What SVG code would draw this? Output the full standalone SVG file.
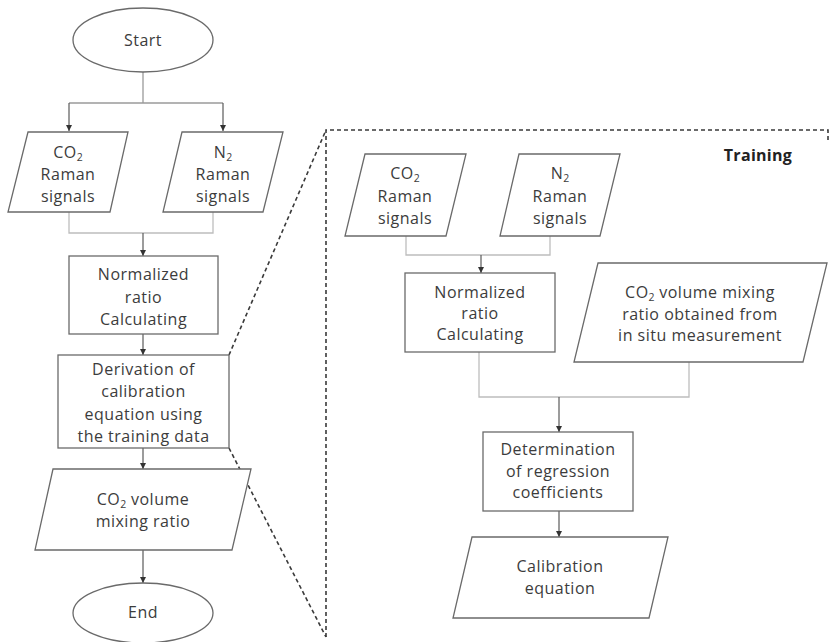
<svg xmlns="http://www.w3.org/2000/svg" width="831" height="642" viewBox="0 0 831 642">
<style>
text{font-family:"Open Sans","Noto Sans","Liberation Sans",sans-serif;font-size:16px;letter-spacing:0.5px;fill:#3c3c3c;text-anchor:middle}
.b{font-weight:bold;fill:#222;font-size:16px;letter-spacing:0.3px}
.sub{font-size:10.5px;letter-spacing:0}
.s{fill:#fff;stroke:#6a6a6a;stroke-width:1.3}
.c{fill:none;stroke:#9a9a9a;stroke-width:1.3}
.m{fill:none;stroke:#bdbdbd;stroke-width:1.3}
.a{fill:none;stroke:#5a5a5a;stroke-width:1.2;marker-end:url(#ah)}
.d{fill:none;stroke:#3a3a3a;stroke-width:1.6;stroke-dasharray:4 3}
</style>
<defs>
<marker id="ah" viewBox="0 0 8 8" refX="8" refY="4" markerWidth="6" markerHeight="6" markerUnits="userSpaceOnUse" orient="auto">
<path d="M0,0L8,4L0,8z" fill="#333"/>
</marker>
</defs>
<rect width="831" height="642" fill="#fff"/>
<g id="connectors">
<path class="c" d="M143,72V103M69,103H223"/>
<path class="a" d="M69,103V131"/>
<path class="a" d="M223,103V131"/>
<path class="m" d="M69,212V233H213V212"/>
<path class="a" d="M143,233V256"/>
<path class="a" d="M143,334V355"/>
<path class="a" d="M143,448V469"/>
<path class="a" d="M143,550V583"/>
<path class="m" d="M406,236V255H550V236"/>
<path class="a" d="M481,255V273"/>
<path class="m" d="M479,352V397H689V362"/>
<path class="a" d="M559,397V432"/>
<path class="a" d="M559,511V537"/>
</g>
<g id="zoom-frame">
<path class="d" d="M229,355L326,130"/>
<path class="d" d="M229,448L326,637"/>
<path class="d" d="M326,637V130H828V140"/>
</g>
<g id="start"><ellipse class="s" cx="143" cy="40" rx="70" ry="32"/><text x="143" y="46">Start</text></g>
<g id="co2-signals"><path class="s" d="M28,132H128L110,212H8Z"/>
<text x="68" y="158">CO<tspan class="sub" dy="3">2</tspan></text><text x="68" y="180">Raman</text><text x="68" y="202">signals</text></g>
<g id="n2-signals"><path class="s" d="M182,132H283L263,212H163Z"/>
<text x="223" y="158">N<tspan class="sub" dy="3">2</tspan></text><text x="223" y="180">Raman</text><text x="223" y="202">signals</text></g>
<g id="normalized"><rect class="s" x="69" y="256" width="149" height="78"/>
<text x="143.5" y="280">Normalized</text><text x="143.5" y="303">ratio</text><text x="143.5" y="325">Calculating</text></g>
<g id="derivation"><rect class="s" x="58" y="355" width="171" height="93"/>
<text x="143.5" y="375">Derivation of</text><text x="143.5" y="397">calibration</text><text x="143.5" y="420">equation using</text><text x="143.5" y="442">the training data</text></g>
<g id="co2-ratio"><path class="s" d="M53,469H251L232,550H35Z"/>
<text x="143" y="505">CO<tspan class="sub" dy="3">2</tspan><tspan dy="-3"> volume</tspan></text><text x="143" y="527">mixing ratio</text></g>
<g id="end"><ellipse class="s" cx="143" cy="613" rx="70" ry="30"/><text x="143" y="618">End</text></g>
<g id="training-label"><text class="b" x="758" y="161">Training</text></g>
<g id="t-co2-signals"><path class="s" d="M365,154H466L446,236H345Z"/>
<text x="405" y="179">CO<tspan class="sub" dy="3">2</tspan></text><text x="405" y="202">Raman</text><text x="405" y="224">signals</text></g>
<g id="t-n2-signals"><path class="s" d="M519,154H620L600,236H500Z"/>
<text x="560" y="179">N<tspan class="sub" dy="3">2</tspan></text><text x="560" y="202">Raman</text><text x="560" y="224">signals</text></g>
<g id="t-normalized"><rect class="s" x="405" y="273" width="150" height="79"/>
<text x="480" y="298">Normalized</text><text x="480" y="319">ratio</text><text x="480" y="340">Calculating</text></g>
<g id="t-insitu"><path class="s" d="M598,263H827L803,362H574Z"/>
<text x="700" y="298">CO<tspan class="sub" dy="3">2</tspan><tspan dy="-3"> volume mixing</tspan></text><text x="700" y="320">ratio obtained from</text><text x="700" y="341">in situ measurement</text></g>
<g id="t-determination"><rect class="s" x="483" y="432" width="150" height="79"/>
<text x="558" y="455">Determination</text><text x="558" y="477">of regression</text><text x="558" y="498">coefficients</text></g>
<g id="t-calibration"><path class="s" d="M472,537H668L649,618H453Z"/>
<text x="560" y="572">Calibration</text><text x="560" y="594">equation</text></g>
</svg>
